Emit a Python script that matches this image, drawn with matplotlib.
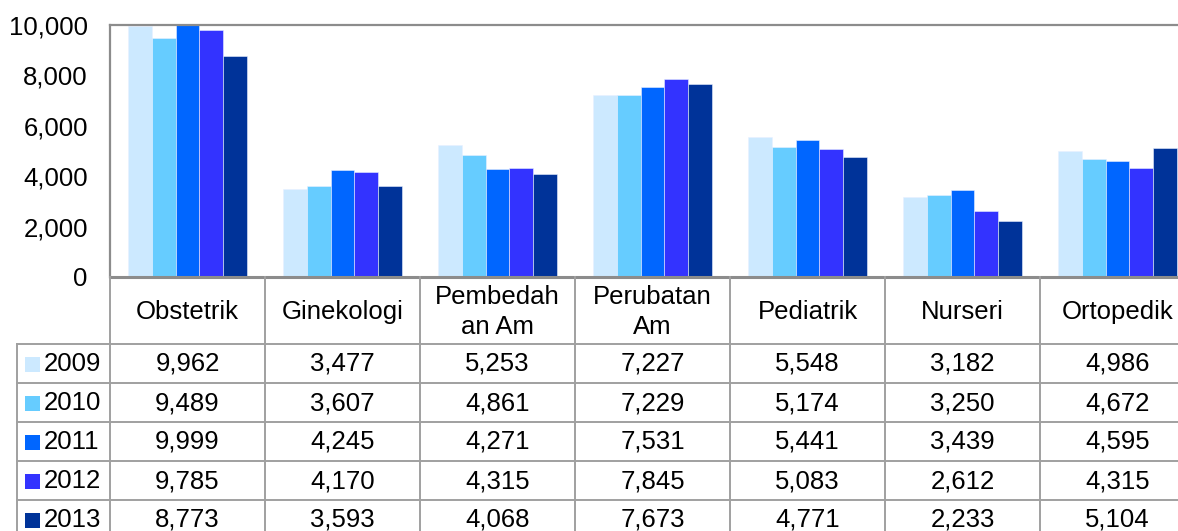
import matplotlib
matplotlib.use('Agg')
import matplotlib.pyplot as plt
from matplotlib.patches import Rectangle
from matplotlib.lines import Line2D
from matplotlib.transforms import blended_transform_factory
import numpy as np

# data
categories = ["Obstetrik", "Ginekologi", "Pembedah\nan Am", "Perubatan\nAm", "Pediatrik", "Nurseri", "Ortopedik"]
years = ["2009", "2010", "2011", "2012", "2013"]
v2009 = [9962, 3477, 5253, 7227, 5548, 3182, 4986]
v2010 = [9489, 3607, 4861, 7229, 5174, 3250, 4672]
v2011 = [9999, 4245, 4271, 7531, 5441, 3439, 4595]
v2012 = [9785, 4170, 4315, 7845, 5083, 2612, 4315]
v2013 = [8773, 3593, 4068, 7673, 4771, 2233, 5104]
series = [v2009, v2010, v2011, v2012, v2013]
colors = ["#CCE9FF", "#66CCFF", "#0066FF", "#3333FF", "#003399"]

plt.rcParams['font.family'] = ['Liberation Sans', 'DejaVu Sans']
W, H = 1178, 531
fs = 18.5
fig = plt.figure(figsize=(W / 100, H / 100), dpi=100)

# plot area in pixels
left, top, bottom, cell = 110, 25, 277, 155
ax = fig.add_axes([left / W, 1 - bottom / H, 7 * cell / W, (bottom - top) / H])

x = np.arange(len(categories))
bw = 0.154
for i, (vals, c) in enumerate(zip(series, colors)):
    ax.bar(x + (i - 2) * bw, vals, width=bw, color=c, edgecolor='#e8f0ff', linewidth=0.4)

ax.set_xlim(-0.5, 6.5)
ax.set_ylim(0, 10000)
ax.set_yticks(range(0, 10001, 2000))
ax.set_yticklabels([f"{v:,}" for v in range(0, 10001, 2000)], fontsize=fs)
ax.tick_params(axis='y', length=0, pad=16)
ax.set_xticks([])
gray = '#8c8c8c'
for s in ['left', 'top']:
    ax.spines[s].set_color(gray)
    ax.spines[s].set_linewidth(1.6)
ax.spines['bottom'].set_color(gray)
ax.spines['bottom'].set_linewidth(2.2)
ax.spines['right'].set_visible(False)

# table below the plot
fy = lambda y: 1 - y / H
fx = lambda px: px / W
tgray = '#a0a0a0'
row_lines = [344, 383, 422, 461, 500, 539]
for y in row_lines:
    fig.add_artist(Line2D([fx(17), 1.0], [fy(y), fy(y)], color=tgray, lw=1.4, transform=fig.transFigure))
fig.add_artist(Line2D([fx(17), fx(17)], [fy(344), 0], color=tgray, lw=1.4, transform=fig.transFigure))
for k in range(8):
    xp = left + k * cell
    fig.add_artist(Line2D([fx(xp), fx(xp)], [fy(bottom), 0], color=tgray, lw=1.4, transform=fig.transFigure))

bt = blended_transform_factory(ax.transData, fig.transFigure)
for i, cat in enumerate(categories):
    ax.text(i, fy(312), cat, transform=bt, ha='center', va='center', fontsize=fs,
            linespacing=1.3, clip_on=False)

row_centers = [364, 403, 442, 481, 520]
for r, (yr, vals, c) in enumerate(zip(years, series, colors)):
    yc = row_centers[r]
    fig.add_artist(Rectangle((fx(25), fy(yc + 7.5)), 15 / W, 15 / H, facecolor=c,
                             edgecolor='none', transform=fig.transFigure))
    fig.text(fx(44), fy(yc), yr, ha='left', va='center', fontsize=fs)
    for i, v in enumerate(vals):
        ax.text(i, fy(yc), f"{v:,}", transform=bt, ha='center', va='center', fontsize=fs, clip_on=False)

plt.savefig('out.png', dpi=100)
